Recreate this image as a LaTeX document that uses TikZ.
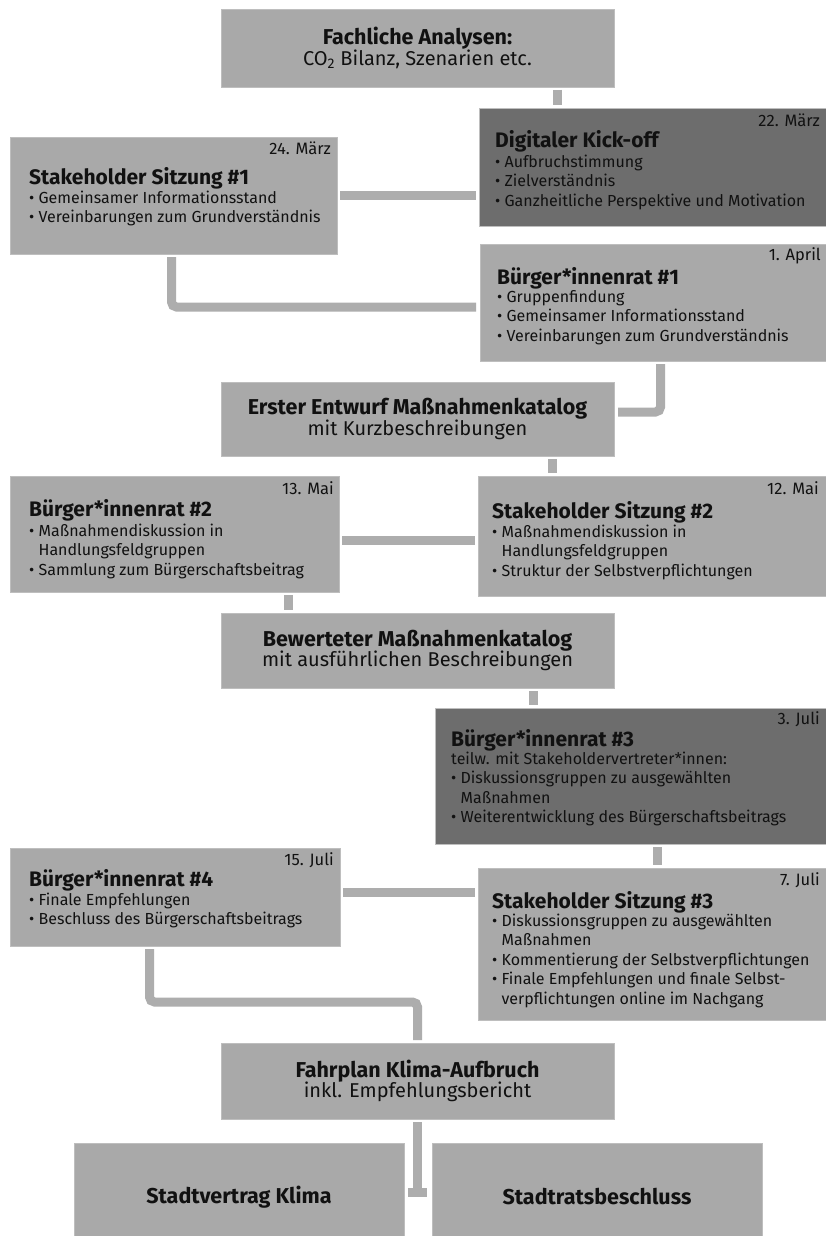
\documentclass[tikz,border=0pt]{standalone}
\usepackage{fontspec}
\setmainfont{Fira Sans}
\usetikzlibrary{calc}
\definecolor{boxgray}{HTML}{A9A9A9}
\definecolor{boxdark}{HTML}{6D6D6D}
\definecolor{boxedge}{HTML}{BEBEBE}
\definecolor{conngray}{HTML}{ADADAD}
\definecolor{ink}{HTML}{111111}
\newcommand\hang{\phantom{•\ }}
\newcommand\ctitle[1]{{\fontsize{21.5}{20.5}\selectfont\bfseries #1}}
\tikzset{
  lbox/.style={fill=boxgray, draw=boxedge, line width=0.8pt, inner sep=0pt, outer sep=0pt, anchor=north west},
  dbox/.style={lbox, fill=boxdark},
  cbox/.style={lbox, align=center, text=ink, font=\fontsize{20}{20.5}\selectfont},
  ttl/.style={anchor=base west, inner sep=0pt, text=ink, font=\fontsize{21}{20}\selectfont\bfseries},
  body/.style={anchor=north west, inner sep=0pt, align=left, text=ink, font=\fontsize{16}{19.5}\selectfont},
  datum/.style={anchor=base east, inner sep=0pt, text=ink, font=\fontsize{16.5}{18}\selectfont},
  conn/.style={draw=conngray, line width=9pt, line cap=butt, shorten <=3pt, shorten >=3pt},
}
\begin{document}
\begin{tikzpicture}[x=1pt,y=-1pt]
\fill[white] (0,0) rectangle (825,1236);
\useasboundingbox (0,0) rectangle (825,1236);

% boxes
\node[cbox, minimum width=393pt, minimum height=78pt] (A) at (221,9)
  {\ctitle{Fachliche Analysen:}\\CO\textsubscript{2} Bilanz, Szenarien etc.};
\node[dbox, minimum width=348pt, minimum height=118pt] (ko) at (479,108) {};
\node[lbox, minimum width=327pt, minimum height=117pt] (sh1) at (10,137) {};
\node[lbox, minimum width=347pt, minimum height=117pt] (b1) at (480,244) {};
\node[cbox, minimum width=393pt, minimum height=74pt] (er) at (221,382)
  {\ctitle{Erster Entwurf Maßnahmenkatalog}\\mit Kurzbeschreibungen};
\node[lbox, minimum width=329pt, minimum height=116pt] (b2) at (10,476) {};
\node[lbox, minimum width=349pt, minimum height=120pt] (st2) at (478,476) {};
\node[cbox, minimum width=393pt, minimum height=75pt] (bew) at (221,613)
  {\ctitle{Bewerteter Maßnahmenkatalog}\\mit ausführlichen Beschreibungen};
\node[dbox, minimum width=392pt, minimum height=136pt] (b3) at (435,708) {};
\node[lbox, minimum width=330pt, minimum height=98pt] (b4) at (10,848) {};
\node[lbox, minimum width=349pt, minimum height=152pt] (st3) at (478,868) {};
\node[cbox, minimum width=393pt, minimum height=76pt] (fp) at (221,1043)
  {\ctitle{Fahrplan Klima-Aufbruch}\\inkl. Empfehlungsbericht};
\node[cbox, minimum width=330pt, minimum height=108pt] (sv) at (74,1143)
  {\ctitle{Stadtvertrag Klima}};
\node[cbox, minimum width=330pt, minimum height=108pt] (sr) at (432,1143)
  {\ctitle{Stadtratsbeschluss}};

% texts of event boxes
\node[datum] (ko-d) at (820,126.5) {22. März};
\node[ttl] (ko-t) at (495,147.5) {Digitaler Kick-off};
\node[body] (ko-b) at (495,153.5) {\strut• Aufbruchstimmung\\• Zielverständnis\\• Ganzheitliche Perspektive und Motivation};

\node[datum] (sh1-d) at (331,154.5) {24. März};
\node[ttl] (sh1-t) at (29,184.5) {Stakeholder Sitzung \#1};
\node[body] (sh1-b) at (29,189.5) {\strut• Gemeinsamer Informationsstand\\• Vereinbarungen zum Grundverständnis};

\node[datum] (b1-d) at (821,260.5) {1. April};
\node[ttl] (b1-t) at (497,284.5) {Bürger*innenrat \#1};
\node[body] (b1-b) at (497,288.5) {\strut• Gruppenfindung\\• Gemeinsamer Informationsstand\\• Vereinbarungen zum Grundverständnis};

\node[datum] (b2-d) at (334,494.5) {13. Mai};
\node[ttl] (b2-t) at (29,516.5) {Bürger*innenrat \#2};
\node[body] (b2-b) at (29,522.5) {\strut• Maßnahmendiskussion in\\\hang Handlungsfeldgruppen\\• Sammlung zum Bürgerschaftsbeitrag};

\node[datum] (st2-d) at (819,494.5) {12. Mai};
\node[ttl] (st2-t) at (492,518.5) {Stakeholder Sitzung \#2};
\node[body] (st2-b) at (492,523.5) {\strut• Maßnahmendiskussion in\\\hang Handlungsfeldgruppen\\• Struktur der Selbstverpflichtungen};

\node[datum] (b3-d) at (820,724.5) {3. Juli};
\node[ttl] (b3-t) at (451,746.5) {Bürger*innenrat \#3};
\node[body] (b3-b) at (451,750.5) {\strut teilw. mit Stakeholdervertreter*innen:\\• Diskussionsgruppen zu ausgewählten\\\hang Maßnahmen\\• Weiterentwicklung des Bürgerschaftsbeitrags};

\node[datum] (b4-d) at (334,865.5) {15. Juli};
\node[ttl] (b4-t) at (29,886.5) {Bürger*innenrat \#4};
\node[body] (b4-b) at (29,891.5) {\strut• Finale Empfehlungen\\• Beschluss des Bürgerschaftsbeitrags};

\node[datum] (st3-d) at (820,885.5) {7. Juli};
\node[ttl] (st3-t) at (492,908.5) {Stakeholder Sitzung \#3};
\node[body] (st3-b) at (492,912.5) {\strut• Diskussionsgruppen zu ausgewählten\\\hang Maßnahmen\\• Kommentierung der Selbstverpflichtungen\\• Finale Empfehlungen und finale Selbst-\\\hang verpflichtungen online im Nachgang};

% helper coordinates
\coordinate (k1) at (557,0);
\coordinate (k2) at (171.5,307);
\coordinate (k3) at (660.5,412);
\coordinate (k4) at (552,0);
\coordinate (k5) at (0,540.5);
\coordinate (k6) at (288,0);
\coordinate (k7) at (533.5,0);
\coordinate (k8) at (657.5,0);
\coordinate (k9) at (0,892.5);
\coordinate (k10) at (149.5,1002);
\coordinate (k11) at (0,1197);
\coordinate (k12) at (0,1192.5);

% connectors
\draw[conn] (A.south -| k1) -- (ko.north -| k1);
\draw[conn] (sh1.east) -- (sh1.east -| ko.west);
\draw[conn, rounded corners=5pt, shorten >=4pt] (sh1.south -| k2) |- (k2 -| b1.west);
\draw[conn, rounded corners=5pt, shorten >=4pt] (b1.south -| k3) |- (k3 -| er.east);
\draw[conn] (er.south -| k4) -- (st2.north -| k4);
\draw[conn] (b2.east |- k5) -- (st2.west |- k5);
\draw[conn] (b2.south -| k6) -- (bew.north -| k6);
\draw[conn] (bew.south -| k7) -- (b3.north -| k7);
\draw[conn] (b3.south -| k8) -- (st3.north -| k8);
\draw[conn] (b4.east |- k9) -- (st3.west |- k9);
\draw[conn, rounded corners=5pt] (b4.south -| k10) |- (fp.north |- k10) -- (fp.north);
\draw[conn, shorten >=0pt] (fp.south) -- (fp.south |- k11);
\coordinate (k13) at (fp.south |- k12);
\draw[conn, shorten <=0pt, shorten >=0pt] ($(k13)+(-9.5,0)$) -- ($(k13)+(9.5,0)$);
\end{tikzpicture}
\end{document}
